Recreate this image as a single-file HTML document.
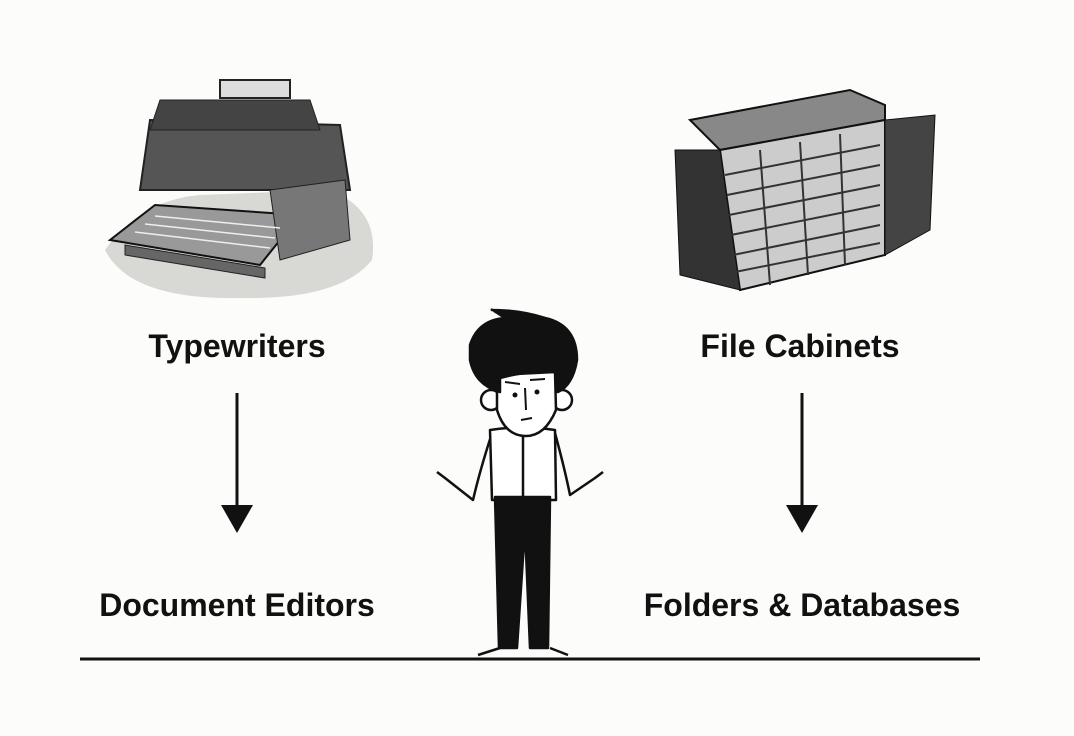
<!DOCTYPE html>
<html><head><style>
body{margin:0;background:#fcfcfa;}
.t{position:absolute;font-family:"Liberation Sans",sans-serif;font-weight:bold;font-size:32px;color:#111;transform:translateX(-50%);white-space:nowrap;}
</style></head><body>
<div style="position:relative;width:1074px;height:736px;overflow:hidden;">
<svg width="1074" height="736" style="position:absolute;left:0;top:0">
<g stroke="#222" fill="none">
<path d="M105 250 Q140 200 200 195 L330 190 Q380 210 372 260 Q340 300 240 298 Q130 300 105 250Z" fill="#d8d8d4" stroke="none"/>
<path d="M110 240 L155 205 L300 215 L260 265 Z" fill="#999" stroke="#111" stroke-width="2"/>
<path d="M125 245 L265 268 L265 278 L125 255 Z" fill="#666"/>
<path d="M150 120 L340 125 L350 190 L140 190 Z" fill="#555" stroke-width="2"/>
<path d="M160 100 L310 100 L320 130 L150 130 Z" fill="#444"/>
<rect x="220" y="80" width="70" height="18" fill="#ddd" stroke-width="2"/>
<path d="M270 190 L345 180 L350 240 L280 260Z" fill="#777"/>
<g stroke="#eee" stroke-width="1.5">
<path d="M135 232 L270 248 M145 224 L275 238 M155 216 L280 228"/>
</g>
</g>
<g stroke="#111">
<path d="M690 120 L850 90 L885 105 L885 120 L720 150 Z" fill="#888" stroke-width="2"/>
<path d="M720 150 L885 120 L885 255 L740 290 Z" fill="#ccc" stroke-width="2"/>
<path d="M675 150 L720 150 L740 290 L680 275Z" fill="#333"/>
<path d="M885 120 L935 115 L930 230 L885 255Z" fill="#444"/>
<g stroke="#333" stroke-width="2">
<path d="M725 175 L880 145 M727 195 L880 165 M729 215 L880 185 M731 235 L880 205 M733 255 L880 225 M735 272 L880 243"/>
<path d="M760 150 L770 285 M800 142 L808 275 M840 134 L845 265"/>
</g>
</g>
<line x1="237" y1="393" x2="237" y2="510" stroke="#111" stroke-width="3"/>
<polygon points="221,505 253,505 237,533" fill="#111"/>
<line x1="802" y1="393" x2="802" y2="510" stroke="#111" stroke-width="3"/>
<polygon points="786,505 818,505 802,533" fill="#111"/>
<line x1="80" y1="659" x2="980" y2="659" stroke="#111" stroke-width="3"/>
<g stroke="#111" stroke-width="2.5" fill="#fff" stroke-linejoin="round">
<path d="M492 433 Q480 470 473 500 L445 478 L437 472 M555 433 Q565 470 570 495 L595 478 L603 472" fill="none"/>
<path d="M490 430 Q520 425 555 430 L556 500 L492 500 Z"/>
<line x1="523" y1="430" x2="523" y2="500"/>
<circle cx="491" cy="400" r="10"/><circle cx="562" cy="400" r="10"/>
<path d="M497 375 L555 372 L556 410 Q545 436 526 436 Q505 436 497 410 Z"/>
<path d="M470 345 Q478 320 505 318 Q490 308 492 310 Q520 310 545 318 Q577 325 577 360 Q573 385 558 392 L555 372 Q530 370 500 378 L500 392 Q475 385 470 360Z" fill="#111"/>
<path d="M495 497 L550 497 L548 648 L530 648 L525 528 L517 648 L499 648 Z" fill="#111"/>
<path d="M478 655 L500 648 M550 648 L568 655" fill="none"/>
</g>
<g fill="#111"><circle cx="515" cy="395" r="2.5"/><circle cx="537" cy="392" r="2.5"/></g>
<path d="M525 388 L526 410 M521 420 L532 418 M505 382 L520 384 M530 380 L545 379" stroke="#111" stroke-width="2" fill="none"/>
</svg>
<div class="t" style="left:237px;top:328px">Typewriters</div>
<div class="t" style="left:800px;top:328px">File Cabinets</div>
<div class="t" style="left:237px;top:587px">Document Editors</div>
<div class="t" style="left:802px;top:587px">Folders &amp; Databases</div>
</div>
</body></html>
